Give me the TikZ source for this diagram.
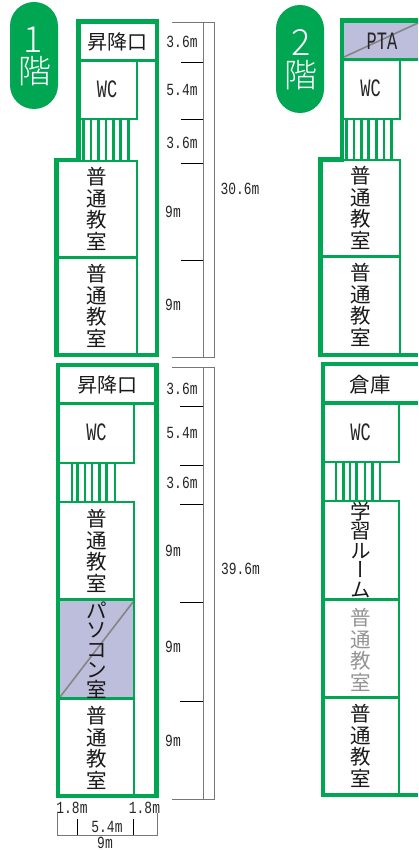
\documentclass[tikz,border=0pt]{standalone}
\usepackage{fontspec}
\newfontfamily\jp{Noto Sans CJK JP}
\newfontfamily\jpl{Noto Sans CJK JP Light}
\newfontfamily\jpv[RawFeature={+vert}]{Noto Sans CJK JP}
\newfontfamily\dimfont[FakeStretch=0.76]{Liberation Mono}
\newfontfamily\labfont[FakeStretch=0.68]{Liberation Mono}
\definecolor{grn}{HTML}{00A651}
\definecolor{pc}{HTML}{BDBDDC}
\definecolor{dimgray}{HTML}{777777}
\tikzset{
  wall/.style={draw=grn,line width=4.8pt,miter limit=10},
  inner/.style={draw=grn,line width=2.5pt},
  divide/.style={draw=grn,line width=3.2pt},
  stripe/.style={draw=grn,line width=2.6pt},
  dimg/.style={draw=dimgray,line width=0.9pt},
  tick/.style={draw=black,line width=0.8pt},
  dimt/.style={inner sep=0,text=black!85,font=\dimfont\fontsize{17}{17}\selectfont},
  lab/.style={inner sep=0,text=black!85,font=\labfont\fontsize{25}{25}\selectfont},
  room/.style={inner sep=0,text=black!90,align=center,font=\jp\fontsize{20.5}{21.6}\selectfont},
  pill/.style={fill=grn,rounded corners=24pt},
  pillt/.style={inner sep=0,text=white}
}
\begin{document}
\begin{tikzpicture}[x=1pt,y=-1pt]
\useasboundingbox (0,0) rectangle (418,850);
% gray rooms
\fill[pc] (344,22) rectangle (418,59);
\fill[pc] (60,600) rectangle (133,698);
\draw[draw=dimgray!90,line width=1.6pt] (344,57) -- (418,23);
\draw[draw=dimgray!90,line width=1.6pt] (60,697) -- (133,602);
% pills
\fill[pill] (10,2) rectangle (58,109);
\fill[pill] (276,5) rectangle (324,113);
\node[pillt,font=\jpl\fontsize{36}{36}\selectfont] (f1) at (33,40) {1};
\node[pillt,font=\jpl\fontsize{33}{33}\selectfont] (k1) at (35,71) {階};
\node[pillt,font=\jpl\fontsize{36}{36}\selectfont] (f2) at (301,42.5) {2};
\node[pillt,font=\jpl\fontsize{33}{33}\selectfont] (k2) at (301,75) {階};
% 1F upper
\foreach \x in {83.3,90.8,98.3,106,113.3,120.7,128.3} \draw[stripe] (\x,120) -- (\x,160);
\draw[inner] (79,119) -- (137,119) -- (137,61);
\draw[inner] (137,160.5) -- (137,355);
\draw[inner] (58,161) -- (137,161);
\draw[inner] (58,257.5) -- (137,257.5);
\draw[divide] (79,60.5) -- (157,60.5);
\draw[wall] (78.5,21.2) -- (157,21.2) -- (157,355) -- (56.5,355) -- (56.5,160) -- (78.5,160) -- cycle;
% 1F lower
\foreach \x in {72,77.5,85,92,99.5,106.5,115} \draw[stripe] (\x,464) -- (\x,501);
\draw[inner] (60,463) -- (134,463) -- (134,404);
\draw[inner] (60,501.8) -- (134,501.8) -- (134,796);
\draw[divide] (60,403.5) -- (155,403.5);
\draw[divide] (60,599.5) -- (134,599.5);
\draw[divide] (60,698.5) -- (134,698.5);
\draw[wall] (58,365) rectangle (156.8,796);
% 2F upper
\foreach \x in {346.7,354,361.3,368.7,376.7,384,391.7} \draw[stripe] (\x,120) -- (\x,160);
\draw[inner] (344,119) -- (400,119) -- (400,60);
\draw[inner] (323,160) -- (400,160) -- (400,355);
\draw[inner] (323,256.5) -- (400,256.5);
\draw[divide] (344,59.5) -- (418,59.5);
\draw[wall] (418,20.2) -- (342,20.2) -- (342,159.5) -- (320.5,159.5) -- (320.5,355) -- (418,355);
% 2F lower
\foreach \x in {336,343.3,350,356.7,365,372.7,380} \draw[stripe] (\x,463) -- (\x,501);
\draw[inner] (325,462) -- (399,462) -- (399,403);
\draw[inner] (325,501) -- (399,501) -- (399,795);
\draw[divide] (325,403) -- (418,403);
\draw[divide] (325,599.5) -- (399,599.5);
\draw[divide] (325,697.5) -- (399,697.5);
\draw[wall] (418,364) -- (323,364) -- (323,795) -- (418,795);
% room labels
\node[room,font=\jp\fontsize{20}{20}\selectfont] (a1) at (117,41.5) {昇降口};
\node[lab] (a2) at (107,89) {WC};
\node[room] (a3) at (97,209) {普\\通\\教\\室};
\node[room] (a4) at (97,306) {普\\通\\教\\室};
\node[room,font=\jp\fontsize{20}{20}\selectfont] (b1) at (107,385) {昇降口};
\node[lab] (b2) at (96.5,432) {WC};
\node[room] (b3) at (97,551) {普\\通\\教\\室};
\node[room,font=\jp\fontsize{20.5}{19.8}\selectfont] (b4) at (97,650) {パ\\ソ\\コ\\ン\\室};
\node[room] (b5) at (97,748) {普\\通\\教\\室};
\node[lab] (c1) at (382,41) {PTA};
\node[lab] (c2) at (370.5,88.5) {WC};
\node[room] (c3) at (361,208) {普\\通\\教\\室};
\node[room] (c4) at (361,305) {普\\通\\教\\室};
\node[room] (d1) at (370,384.5) {倉庫};
\node[lab] (d2) at (360.5,432.5) {WC};
\node[room,font=\jpv\fontsize{20.5}{19.5}\selectfont] (d3) at (361,550) {学\\習\\ル\\ー\\ム};
\node[room,text=black!42] (d4) at (361,650) {普\\通\\教\\室};
\node[room] (d5) at (361,746) {普\\通\\教\\室};
% dimensions upper
\coordinate (ua) at (172,22); \coordinate (ub) at (214,22);
\coordinate (uc) at (172,357); \coordinate (ud) at (214,357);
\draw[dimg] (ua) -- (ub) -- (ud) -- (uc);
\draw[dimg] (203,22) -- (203,357);
\foreach \y in {62,119,163,260} \draw[tick] (181,\y) -- (203,\y);
\node[dimt] (m1) at (182,42) {3.6m};
\node[dimt] (m2) at (182,90) {5.4m};
\node[dimt] (m3) at (182,143) {3.6m};
\node[dimt] (m4) at (173,212) {9m};
\node[dimt] (m5) at (173,305) {9m};
\node[dimt] (m6) at (240,189) {30.6m};
% dimensions lower
\coordinate (la) at (172,367); \coordinate (lb) at (214,367);
\coordinate (lc) at (172,799); \coordinate (ld) at (214,799);
\draw[dimg] (la) -- (lb) -- (ld) -- (lc);
\draw[dimg] (203,367) -- (203,799);
\foreach \y in {406,465,504,602,701} \draw[tick] (180,\y) -- (203,\y);
\node[dimt] (n1) at (182,389) {3.6m};
\node[dimt] (n2) at (182,433) {5.4m};
\node[dimt] (n3) at (182,483) {3.6m};
\node[dimt] (n4) at (173,551) {9m};
\node[dimt] (n5) at (173,647) {9m};
\node[dimt] (n6) at (173,741) {9m};
\node[dimt] (n7) at (240.5,569) {39.6m};
% width dimensions
\node[dimt] (w1) at (72,808) {1.8m};
\node[dimt] (w2) at (144.5,808) {1.8m};
\node[dimt] (w3) at (107,827) {5.4m};
\node[dimt] (w4) at (105,842.5) {9m};
\coordinate (wa) at (57,813); \coordinate (wb) at (57,835);
\coordinate (wc) at (157.5,835); \coordinate (wd) at (157.5,813);
\draw[dimg] (wa) -- (wb) -- (wc) -- (wd);
\draw[tick] (77,819) -- (77,835);
\draw[tick] (133.5,819) -- (133.5,835);
\end{tikzpicture}
\end{document}
